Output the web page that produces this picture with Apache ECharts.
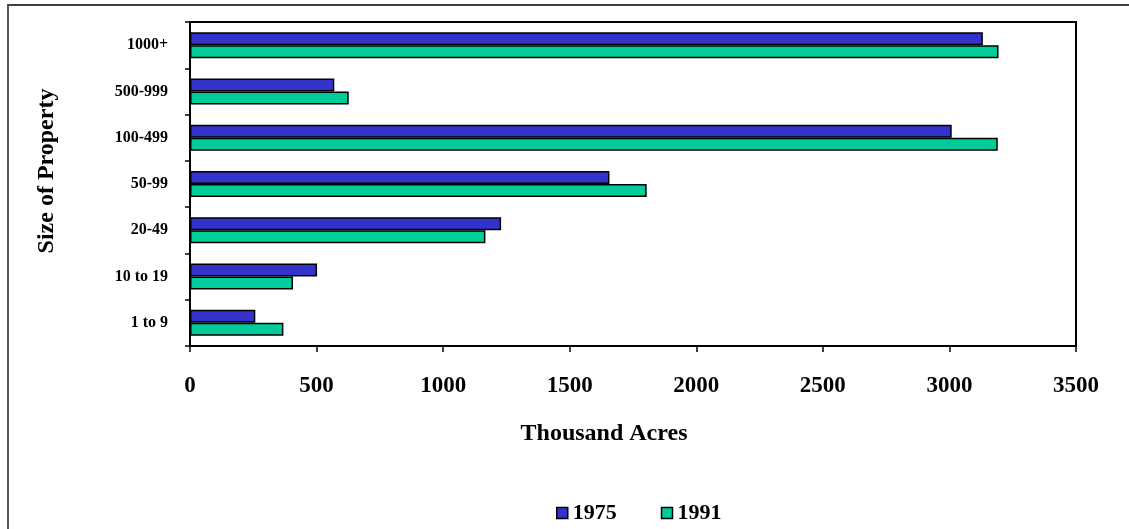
<!DOCTYPE html>
<html>
<head>
<meta charset="utf-8">
<script src="https://cdn.jsdelivr.net/npm/echarts@6/dist/echarts.min.js"></script>
<style>html,body{margin:0;padding:0;background:#fff}#c{width:1129px;height:529px}</style>
</head>
<body>
<div id="c"></div>
<script>
const categories = ['1000+', '500-999', '100-499', '50-99', '20-49', '10 to 19', '1 to 9'];
const values1975 = [3132, 570, 3009, 1657, 1229, 502, 258];
const values1991 = [3194, 627, 3191, 1804, 1167, 407, 369];
const seriesNames = ['1975', '1991'];
const xTicks = { min: 0, max: 3500, interval: 500 };

const FONT = '"Liberation Serif", "Times New Roman", serif';
const chart = echarts.init(document.getElementById('c'), null, { renderer: 'canvas' });
chart.setOption({
  animation: false,
  backgroundColor: '#fff',
  grid: { left: 190, top: 22, width: 886, height: 324, show: true, borderColor: '#000', borderWidth: 2, backgroundColor: 'transparent' },
  legend: {
    data: seriesNames,
    left: 551, top: 497,
    itemWidth: 11, itemHeight: 11, itemGap: 44,
    icon: 'rect',
    itemStyle: { borderColor: '#000', borderWidth: 1.5 },
    textStyle: { fontFamily: FONT, fontWeight: 'bold', fontSize: 22, color: '#000' }
  },
  xAxis: {
    type: 'value', min: xTicks.min, max: xTicks.max, interval: xTicks.interval,
    axisLine: { show: true, lineStyle: { color: '#000', width: 2 } },
    axisTick: { show: true, length: 6, lineStyle: { color: '#000', width: 1.5 } },
    splitLine: { show: false },
    axisLabel: { margin: 29, fontFamily: FONT, fontWeight: 'bold', fontSize: 23, color: '#000', formatter: function (v) { return String(v); } }
  },
  yAxis: {
    type: 'category', data: categories, inverse: true,
    axisLine: { show: true, lineStyle: { color: '#000', width: 2 } },
    axisTick: { show: true, length: 5, alignWithLabel: false, lineStyle: { color: '#000', width: 1.5 } },
    axisLabel: { margin: 22, fontFamily: FONT, fontWeight: 'bold', fontSize: 16, color: '#000' }
  },
  series: [
    { name: seriesNames[0], type: 'bar', data: values1975, barWidth: 13, barGap: '0%',
      itemStyle: { color: '#3333CC', borderColor: '#000', borderWidth: 1.5 } },
    { name: seriesNames[1], type: 'bar', data: values1991, barWidth: 13, barGap: '0%',
      itemStyle: { color: '#00CC99', borderColor: '#000', borderWidth: 1.5 } }
  ],
  graphic: [
    { type: 'line', shape: { x1: 7, y1: 5, x2: 1129, y2: 5 }, style: { stroke: '#000', lineWidth: 1.5 } },
    { type: 'line', shape: { x1: 8, y1: 5, x2: 8, y2: 529 }, style: { stroke: '#555', lineWidth: 2 } },
    { type: 'text', x: 604, y: 434, style: { text: 'Thousand Acres', font: 'bold 24px ' + FONT, fill: '#000', textAlign: 'center', textVerticalAlign: 'middle' } },
    { type: 'text', x: 47, y: 171, rotation: Math.PI / 2, style: { text: 'Size of Property', font: 'bold 24px ' + FONT, fill: '#000', textAlign: 'center', textVerticalAlign: 'middle' } }
  ]
});
</script>
</body>
</html>
